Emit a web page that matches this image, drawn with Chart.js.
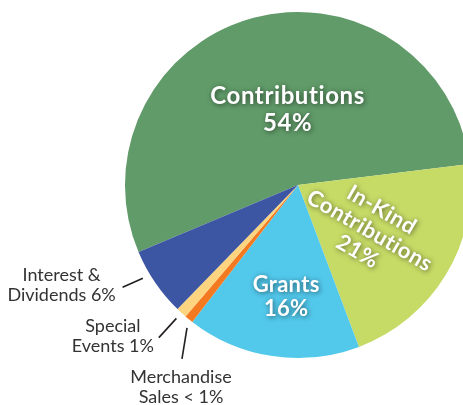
<!DOCTYPE html>
<html>
<head>
<meta charset="utf-8">
<script src="https://cdn.jsdelivr.net/npm/chart.js@4/dist/chart.umd.min.js"></script>
<style>
  html, body { margin: 0; padding: 0; background: #fff; overflow: hidden; }
  canvas { display: block; }
</style>
</head>
<body>
<canvas id="myChart" width="480" height="405"></canvas>
<script>
// slice order runs clockwise, starting at the Contributions / Interest edge
const categories = ['Contributions', 'In-Kind Contributions', 'Grants', 'Merchandise Sales', 'Special Events', 'Interest & Dividends'];
const shares = [54.4, 21.2, 16.2, 0.8, 1.0, 6.4];
const sliceLabels = [
  ['Contributions', '54%'],
  ['In-Kind', 'Contributions', '21%'],
  ['Grants', '16%'],
  ['Merchandise', 'Sales < 1%'],
  ['Special', 'Events 1%'],
  ['Interest &', 'Dividends 6%']
];
const colors = ['#619b69', '#c6da66', '#52c8eb', '#f47a22', '#fdd47f', '#3d56a3'];

const rad = d => d * Math.PI / 180;

// where each label goes, relative to its slice
const inside = {
  0: { dAng: 7, r: 76, rot: 0, size: 24, ls: 0.6, lh: 27 },
  1: { dAng: 1.4, r: 85, rot: 30, size: 22, ls: 0.5, lh: 24 },
  2: { dAng: -2.5, r: 113, rot: 0, size: 22, ls: 0.3, lh: 24 }
};
const outside = {
  5: { a1: 3.3, a2: 4.1, r1: 8, r2: 30, dx: -61, dy: -12 },
  4: { a1: 0, a2: 0, r1: 7.5, r2: 33.5, dx: -46, dy: -11 },
  3: { a1: -1.3, a2: -5.4, r1: 8, r2: 36, dx: -1, dy: 18 }
};

const labelPlugin = {
  id: 'sliceLabels',
  afterDatasetsDraw(chart) {
    const ctx = chart.ctx;
    const arcs = chart.getDatasetMeta(0).data;
    arcs.forEach((arc, i) => {
      const mid = (arc.startAngle + arc.endAngle) / 2;
      const R = arc.outerRadius;
      const lines = sliceLabels[i];
      if (inside[i]) {
        const p = inside[i];
        const a = mid + rad(p.dAng);
        const x = arc.x + Math.cos(a) * p.r;
        const y = arc.y + Math.sin(a) * p.r;
        ctx.save();
        ctx.translate(x, y);
        ctx.rotate(rad(p.rot));
        ctx.font = 'bold ' + p.size + 'px Lato';
        ctx.letterSpacing = p.ls + 'px';
        ctx.fillStyle = '#fff';
        ctx.textAlign = 'center';
        ctx.textBaseline = 'middle';
        ctx.shadowColor = 'rgba(0,0,0,0.55)';
        ctx.shadowBlur = 5;
        ctx.shadowOffsetX = 1;
        ctx.shadowOffsetY = 1;
        lines.forEach((t, k) => {
          ctx.fillText(t, 0, (k - (lines.length - 1) / 2) * p.lh);
        });
        ctx.restore();
      } else {
        const p = outside[i];
        const a1 = mid + rad(p.a1), a2 = mid + rad(p.a2);
        const x1 = arc.x + Math.cos(a1) * (R + p.r1);
        const y1 = arc.y + Math.sin(a1) * (R + p.r1);
        const x2 = arc.x + Math.cos(a2) * (R + p.r2);
        const y2 = arc.y + Math.sin(a2) * (R + p.r2);
        ctx.save();
        ctx.strokeStyle = '#231f20';
        ctx.lineWidth = 1.6;
        ctx.beginPath();
        ctx.moveTo(x1, y1);
        ctx.lineTo(x2, y2);
        ctx.stroke();
        ctx.font = '18px Lato';
        ctx.fillStyle = '#333';
        ctx.textAlign = 'center';
        ctx.textBaseline = 'middle';
        lines.forEach((t, k) => {
          ctx.fillText(t, x2 + p.dx, y2 + p.dy + k * 20);
        });
        ctx.restore();
      }
    });
  }
};

const ctx = document.getElementById('myChart').getContext('2d');
const chart = new Chart(ctx, {
  type: 'pie',
  data: {
    labels: categories,
    datasets: [{
      data: shares,
      backgroundColor: colors,
      borderWidth: 0
    }]
  },
  options: {
    responsive: false,
    animation: false,
    rotation: 247.2,
    layout: { padding: { left: 125, right: 9, top: 12, bottom: 47 } },
    plugins: {
      legend: { display: false },
      tooltip: { enabled: false }
    }
  },
  plugins: [labelPlugin]
});
</script>
</body>
</html>
